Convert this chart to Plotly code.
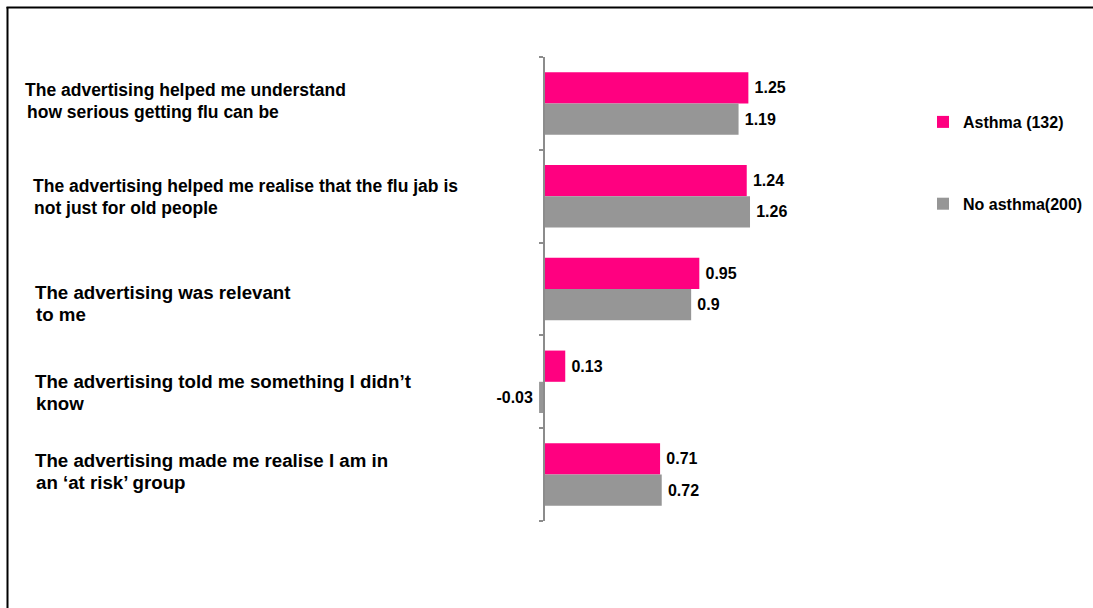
import plotly.graph_objects as go

# Survey statements (top to bottom) and mean agreement scores per group
statements = [
    "The advertising helped me understand<br>how serious getting flu can be",
    "The advertising helped me realise that the flu jab is<br>not just for old people",
    "The advertising was relevant<br>to me",
    "The advertising told me something I didn\u2019t<br>know",
    "The advertising made me realise I am in<br>an \u2018at risk\u2019 group",
]
asthma = [1.25, 1.24, 0.95, 0.13, 0.71]
no_asthma = [1.19, 1.26, 0.90, -0.03, 0.72]
series_names = ["Asthma (132)", "No asthma(200)"]

W, H = 1093, 608
PINK = "#FF0080"
GREY = "#969696"
FONT = "Liberation Sans, Arial, sans-serif"

cats = list(range(len(statements)))

fig = go.Figure()
for name, vals, col, grp in [
    (series_names[0], asthma, PINK, "a"),
    (series_names[1], no_asthma, GREY, "b"),
]:
    fig.add_trace(go.Bar(
        y=cats, x=vals, orientation="h", name=name,
        marker=dict(color=col, line=dict(width=0)),
        text=[f"{v:g}" for v in vals],
        texttemplate="\u2009%{text}\u2009",
        textposition="outside",
        textfont=dict(family=FONT, size=16, color="black", weight="bold"),
        cliponaxis=False,
        legendgroup=grp,
    ))

# pixel geometry of the plotting region
zero_px = 544
px_per_unit = 163.5
x_left_px, x_right_px = 400, 900
y_top_px, y_bot_px = 57, 521

# tick marks sit on the boundaries between statements
boundaries = [c - 0.5 for c in cats] + [cats[-1] + 0.5]

fig.update_layout(
    width=W, height=H,
    margin=dict(l=0, r=0, t=0, b=0),
    paper_bgcolor="white", plot_bgcolor="white",
    barmode="group", bargap=0.327, bargroupgap=0,
    font=dict(family=FONT, size=16, color="black"),
    showlegend=True,
    legend=dict(
        x=923 / W, y=1 - 105 / H, xanchor="left", yanchor="top",
        tracegroupgap=58, itemwidth=30,
        font=dict(family=FONT, size=16, color="black", weight="bold"),
        bgcolor="rgba(0,0,0,0)",
    ),
    xaxis=dict(
        domain=[x_left_px / W, x_right_px / W],
        range=[(x_left_px - zero_px) / px_per_unit, (x_right_px - zero_px) / px_per_unit],
        visible=False,
    ),
    yaxis=dict(
        domain=[1 - y_bot_px / H, 1 - y_top_px / H],
        range=[len(cats) - 0.5, -0.5],
        anchor="free", position=zero_px / W,
        showline=True, linecolor="#8c8c8c", linewidth=1.5,
        ticks="outside", ticklen=4, tickcolor="#8c8c8c", tickwidth=1.5,
        tickmode="array", tickvals=boundaries,
        showticklabels=False, showgrid=False, zeroline=False,
    ),
)

# statement labels on the left, one annotation per text line
label_x = [[23, 25], [31, 32], [33, 34], [33, 34], [33, 34]]
label_y = [[90, 111.5], [186, 208], [293, 314.5], [381.5, 403.5], [460.5, 482.5]]
label_size = [17.5, 17.5, 18.7, 18.7, 18.7]
for text, xs, ys, fs in zip(statements, label_x, label_y, label_size):
    for line, lx, ly in zip(text.split("<br>"), xs, ys):
        fig.add_annotation(
            text=line, xref="paper", yref="paper",
            x=lx / W, y=1 - ly / H, xanchor="left", yanchor="middle",
            align="left", showarrow=False,
            font=dict(family=FONT, size=fs, color="black", weight="bold"),
        )

# outer frame (left and top edges)
fig.add_shape(type="line", xref="paper", yref="paper",
              x0=7.5 / W, x1=7.5 / W, y0=1 - 7 / H, y1=-0.05,
              line=dict(color="black", width=2))
fig.add_shape(type="line", xref="paper", yref="paper",
              x0=6.5 / W, x1=1.05, y0=1 - 7.5 / H, y1=1 - 7.5 / H,
              line=dict(color="black", width=2))

fig.write_html("out.html")
